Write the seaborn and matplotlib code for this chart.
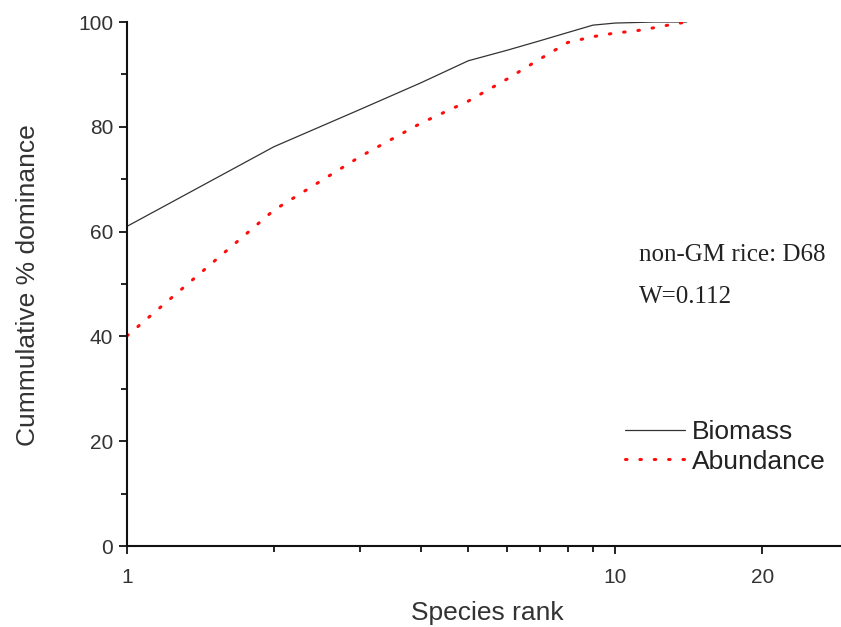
"""
Curvas de dominancia acumulada (k-dominance) - arroz no GM, D68
"""

import numpy as np
import pandas as pd
import matplotlib
matplotlib.use('Agg')
import matplotlib.pyplot as plt
import seaborn as sns
from matplotlib.ticker import FixedLocator, NullFormatter, FixedFormatter
from matplotlib.lines import Line2D

sns.set_style("ticks")
plt.rcParams['font.family'] = ['Liberation Sans', 'DejaVu Sans']

# Datos
rango = [1, 2, 3, 4, 5, 6, 7, 8, 9, 10, 11, 12, 13, 14]
biomasa = [61.0, 76.2, 83.3, 88.4, 92.6, 94.6, 96.4, 98.0, 99.4, 99.8, 99.9, 100.0, 100.0, 100.0]
abundancia = [40.1, 64.1, 74.3, 80.7, 84.9, 89.1, 92.9, 96.1, 97.2, 97.9, 98.3, 98.9, 99.5, 100.0]
series = ['Biomass', 'Abundance']
etiquetas_x = ['1', '10', '20']
ticks_x = [1, 10, 20]
ticks_y = [0, 20, 40, 60, 80, 100]

df = pd.DataFrame({
    'rank': rango * 2,
    'dominance': biomasa + abundancia,
    'serie': [series[0]] * len(rango) + [series[1]] * len(rango),
})

ROJO = '#ff0d0d'
GRIS = '#333333'
PUNTOS = (0.5, 4.2)

fig = plt.figure(figsize=(8.41, 6.27), dpi=100)
ax = fig.add_axes([127 / 841, 81 / 627, 714 / 841, 524 / 627])

sns.lineplot(data=df, x='rank', y='dominance', hue='serie', style='serie',
             palette={'Biomass': GRIS, 'Abundance': ROJO},
             dashes={'Biomass': '', 'Abundance': PUNTOS},
             size='serie', sizes={'Biomass': 0.9, 'Abundance': 2.2},
             legend=False, ax=ax)
for ln in ax.get_lines():
    ln.set_dash_capstyle('round')

ax.set_xscale('log')
ax.set_xlim(1, 29)
ax.set_ylim(0, 100)

ax.xaxis.set_major_locator(FixedLocator(ticks_x))
ax.xaxis.set_major_formatter(FixedFormatter(etiquetas_x))
ax.xaxis.set_minor_locator(FixedLocator([2, 3, 4, 5, 6, 7, 8, 9]))
ax.xaxis.set_minor_formatter(NullFormatter())
ax.yaxis.set_major_locator(FixedLocator(ticks_y))
ax.yaxis.set_minor_locator(FixedLocator([10, 30, 50, 70, 90]))

ax.tick_params(which='major', length=6, width=1.3, labelsize=15, colors='#111111',
               labelcolor='#333333', pad=4)
ax.tick_params(axis='x', which='major', pad=10)
ax.tick_params(which='minor', length=4, width=1.3, colors='#111111')

for lado in ['top', 'right']:
    ax.spines[lado].set_visible(False)
for lado in ['left', 'bottom']:
    ax.spines[lado].set_linewidth(1.5)
    ax.spines[lado].set_color('#111111')

ax.set_xlabel('Species rank', fontsize=19, color='#333333')
ax.set_ylabel('Cummulative % dominance', fontsize=19, color='#333333')
ax.xaxis.set_label_coords(0.504, -0.128)
ax.xaxis.label.set_va('center')
ax.yaxis.set_label_coords(-0.139, 0.498)
ax.yaxis.label.set_va('center')

# Leyenda manual
handles = [
    Line2D([], [], color=GRIS, lw=0.9),
    Line2D([], [], color=ROJO, lw=2.2, dashes=PUNTOS, dash_capstyle='round'),
]
ax.legend(handles, series, loc='center left', bbox_to_anchor=(0.697, 0.189),
          frameon=False, fontsize=19, handlelength=2.3, handletextpad=0.25,
          labelspacing=0.2, borderpad=0, borderaxespad=0, labelcolor='#222222')

# Anotaciones
ax.text(0.717, 0.555, 'non-GM rice: D68', transform=ax.transAxes,
        family=['Liberation Serif', 'DejaVu Serif'], fontsize=18, color='#222222',
        va='center', ha='left')
ax.text(0.717, 0.475, 'W=0.112', transform=ax.transAxes,
        family=['Liberation Serif', 'DejaVu Serif'], fontsize=18, color='#222222',
        va='center', ha='left')

fig.savefig('out.png', dpi=100)
